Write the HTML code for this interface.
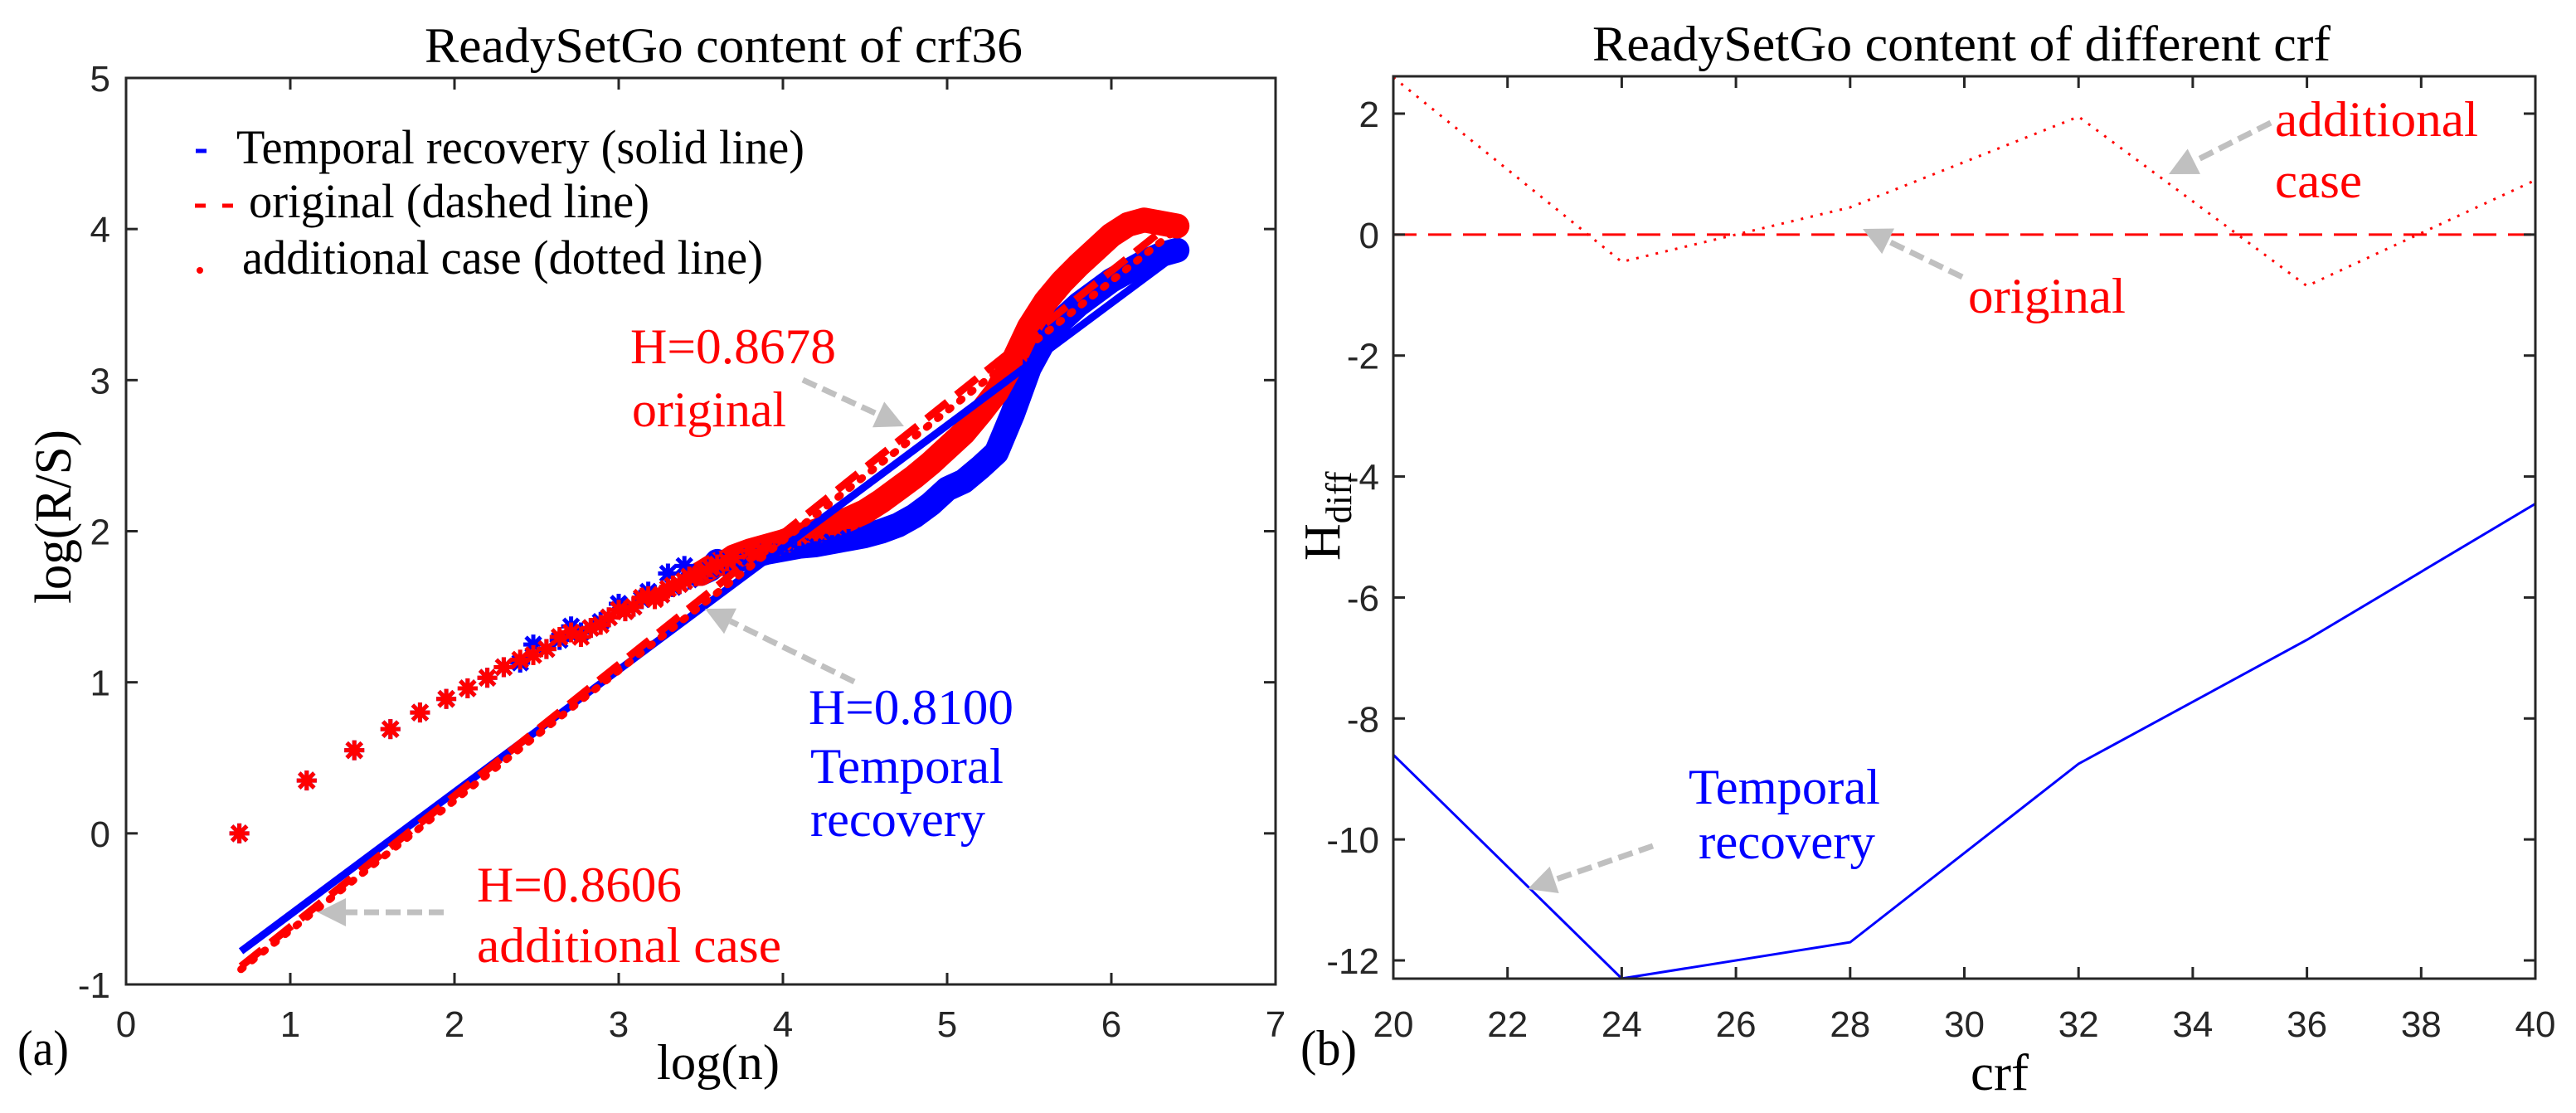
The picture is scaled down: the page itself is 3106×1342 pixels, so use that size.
<!DOCTYPE html>
<html><head><meta charset="utf-8"><style>
html,body{margin:0;padding:0;background:#fff}
svg{display:block}
.t{font-family:"Liberation Serif",serif}
.s{font-family:"Liberation Sans",sans-serif;fill:#262626}
</style></head><body>
<svg id="fig" width="3106" height="1342" viewBox="0 0 3106 1342" xmlns="http://www.w3.org/2000/svg">
<g id="L"></g>
<g id="R"></g>
</svg>
<script>
// ---------- Left chart data ----------
const lnX = [0.69,1.10,1.39,1.61,1.79,1.95,2.08,2.20,2.30,2.40,2.48,2.56,2.64,2.71,2.77,2.83,2.89,2.94,3.00,3.04,3.09,3.14,3.18,3.22,3.26,3.30,3.33,3.37,3.40,3.43,3.47,3.50,3.56,3.60,3.66,3.70,3.80,3.90,4.00,4.10,4.20,4.30,4.40,4.50,4.60,4.70,4.80,4.90,5.00,5.10,5.20,5.30,5.40,5.50,5.60,5.70,5.80,5.90,6.00,6.10,6.20,6.30,6.40];
const blueRS = [0,0.35,0.55,0.69,0.80,0.89,0.96,1.03,1.10,1.13,1.25,1.22,1.28,1.37,1.33,1.36,1.40,1.43,1.52,1.47,1.50,1.55,1.60,1.57,1.58,1.72,1.63,1.65,1.77,1.68,1.70,1.72,1.75,1.80,1.78,1.80,1.83,1.86,1.88,1.90,1.91,1.93,1.95,1.97,2.00,2.04,2.10,2.18,2.28,2.33,2.42,2.52,2.78,3.08,3.28,3.40,3.50,3.58,3.66,3.72,3.78,3.83,3.86];
const redRS = [0,0.35,0.55,0.69,0.80,0.89,0.96,1.03,1.10,1.15,1.18,1.22,1.30,1.33,1.30,1.36,1.38,1.43,1.48,1.47,1.50,1.56,1.57,1.55,1.58,1.62,1.64,1.65,1.67,1.70,1.70,1.72,1.76,1.78,1.80,1.83,1.87,1.90,1.93,1.97,2.00,2.04,2.08,2.13,2.20,2.28,2.36,2.45,2.55,2.65,2.78,2.92,3.12,3.35,3.52,3.65,3.76,3.86,3.96,4.03,4.06,4.04,4.02];
const xTicksL = [0,1,2,3,4,5,6,7];
const yTicksL = [-1,0,1,2,3,4,5];
const fitBlue = [0.7, -0.78, 6.42, 3.85];
const fitRed = [0.7, -0.88, 6.40, 4.07];
const fitAdd = [0.7, -0.90, 6.40, 4.00];
// ---------- Right chart data ----------
const crf = [20,24,28,32,36,40];
const temporal = [-8.6,-12.3,-11.7,-8.75,-6.7,-4.45];
const additional = [2.6,-0.45,0.45,1.95,-0.85,0.9];
const original = [0,0,0,0,0,0];
const xTicksR = [20,22,24,26,28,30,32,34,36,38,40];
const yTicksR = [-12,-10,-8,-6,-4,-2,0,2];

const NS="http://www.w3.org/2000/svg";
function mk(parent,tag,attrs,text){const e=document.createElementNS(NS,tag);for(const k in attrs)e.setAttribute(k,attrs[k]);if(text!==undefined)e.textContent=text;parent.appendChild(e);return e;}
const L=document.getElementById('L'), R=document.getElementById('R');

const LX0=152,LX1=1538,LY0=94,LY1=1187;
const lx=v=>LX0+(v-0)/7*(LX1-LX0);
const ly=v=>LY1-(v+1)/6*(LY1-LY0);
const RX0=1680,RX1=3057,RY0=92,RY1=1180;
const rx=v=>RX0+(v-20)/20*(RX1-RX0);
const ry=v=>137+(2-v)*(1158-137)/14;

function arrow(g,x1,y1,x2,y2,name){
  const dx=x2-x1,dy=y2-y1,len=Math.hypot(dx,dy),ux=dx/len,uy=dy/len;
  const bx=x2-ux*34,by=y2-uy*34;
  const l=mk(g,'line',{x1:x1,y1:y1,x2:bx,y2:by,stroke:'#c0c0c0','stroke-width':7,'stroke-dasharray':'18 8'});
  
  
  const p=mk(g,'polygon',{points:`${x2},${y2} ${bx-uy*17},${by+ux*17} ${bx+uy*17},${by-ux*17}`,fill:'#c0c0c0'});
  
  
}
function txt(g,x,y,s,opts,name){
  const e=mk(g,'text',Object.assign({x:x,y:y},opts),s);
  
  
  return e;
}
function serif(g,x,y,s,w,size,fill,name){
  return txt(g,x,y,s,{'font-family':'"Liberation Serif", serif','font-size':size,fill:fill,textLength:w,lengthAdjust:'spacingAndGlyphs'},name);
}

// ----- LEFT -----
function bandPts(arr){let s=[];lnX.forEach((x,i)=>{if(x>=3.5)s.push(lx(x)+','+ly(arr[i]));});return s.join(' ');}
let bb=mk(L,'polyline',{points:bandPts(blueRS),fill:'none',stroke:'#0000ff','stroke-width':30,'stroke-linejoin':'round','stroke-linecap':'round'});


let rb=mk(L,'polyline',{points:bandPts(redRS),fill:'none',stroke:'#ff0000','stroke-width':30,'stroke-linejoin':'round','stroke-linecap':'round'});


function star(g,cx,cy,col,name){
  const s=mk(g,'g',{stroke:col,'stroke-width':5});
  
  
  const r=12;
  mk(s,'line',{x1:cx-r,y1:cy,x2:cx+r,y2:cy});
  mk(s,'line',{x1:cx,y1:cy-r,x2:cx,y2:cy+r});
  mk(s,'line',{x1:cx-9,y1:cy-9,x2:cx+9,y2:cy+9});
  mk(s,'line',{x1:cx-9,y1:cy+9,x2:cx+9,y2:cy-9});
}
lnX.forEach((x,i)=>star(L,lx(x),ly(blueRS[i]),'#0000ff','temporal-point'));
lnX.forEach((x,i)=>star(L,lx(x),ly(redRS[i]),'#ff0000','original-point'));
let f1=mk(L,'line',{x1:lx(fitBlue[0]),y1:ly(fitBlue[1]),x2:lx(fitBlue[2]),y2:ly(fitBlue[3]),stroke:'#0000ff','stroke-width':9});


let f3=mk(L,'line',{x1:lx(fitAdd[0]),y1:ly(fitAdd[1]),x2:lx(fitAdd[2]),y2:ly(fitAdd[3]),stroke:'#ff0000','stroke-width':9,'stroke-dasharray':'3 14','stroke-linecap':'round'});


let f2=mk(L,'line',{x1:lx(fitRed[0]),y1:ly(fitRed[1]),x2:lx(fitRed[2]),y2:ly(fitRed[3]),stroke:'#ff0000','stroke-width':9,'stroke-dasharray':'32 14'});


let bxL=mk(L,'rect',{x:LX0,y:LY0,width:LX1-LX0,height:LY1-LY0,fill:'none',stroke:'#262626','stroke-width':3});


xTicksL.forEach(v=>{const x=lx(v);
  mk(L,'line',{x1:x,y1:LY1,x2:x,y2:LY1-14,stroke:'#262626','stroke-width':3});
  mk(L,'line',{x1:x,y1:LY0,x2:x,y2:LY0+14,stroke:'#262626','stroke-width':3});
  txt(L,x,1250,String(v),{class:'s','font-size':44,'text-anchor':'middle'},'x-tick-label');});
yTicksL.forEach(v=>{const y=ly(v);
  mk(L,'line',{x1:LX0,y1:y,x2:LX0+14,y2:y,stroke:'#262626','stroke-width':3});
  mk(L,'line',{x1:LX1,y1:y,x2:LX1-14,y2:y,stroke:'#262626','stroke-width':3});
  txt(L,133,y+16,String(v),{class:'s','font-size':44,'text-anchor':'end'},'y-tick-label');});
serif(L,512,75,'ReadySetGo content of crf36',721,60,'#000','left-title');
serif(L,792,1301,'log(n)',148,60,'#000','x-axis-title');
let yl=serif(L,0,0,'log(R/S)',210,62,'#000','y-axis-title');
yl.setAttribute('transform','translate(85,728) rotate(-90)');
serif(L,21,1284,'(a)',62,60,'#000','panel-label-a');
let lg=mk(L,'g',{});


mk(lg,'line',{x1:236,y1:182,x2:249,y2:182,stroke:'#0000ff','stroke-width':5});
mk(lg,'line',{x1:235,y1:248,x2:248,y2:248,stroke:'#ff0000','stroke-width':5});
mk(lg,'line',{x1:268,y1:248,x2:281,y2:248,stroke:'#ff0000','stroke-width':5});
mk(lg,'circle',{cx:241,cy:326,r:4,fill:'#ff0000'});
serif(lg,285,197,'Temporal recovery (solid line)',685,58,'#000','legend-entry-temporal');
serif(lg,300,262,'original (dashed line)',483,58,'#000','legend-entry-original');
serif(lg,292,330,'additional case (dotted line)',628,58,'#000','legend-entry-additional');
serif(L,760,438,'H=0.8678',248,60,'#ff0000','annotation-original-h');
serif(L,762,514,'original',186,60,'#ff0000','annotation-original-label');
serif(L,975,873,'H=0.8100',247,60,'#0000ff','annotation-temporal-h');
serif(L,977,944,'Temporal',233,60,'#0000ff','annotation-temporal-label');
serif(L,977,1008,'recovery',211,60,'#0000ff','annotation-recovery-label');
serif(L,575,1087,'H=0.8606',247,60,'#ff0000','annotation-additional-h');
serif(L,575,1160,'additional case',367,60,'#ff0000','annotation-additional-label');
arrow(L,968,458,1090,514,'arrow-original');
arrow(L,1030,822,850,734,'arrow-temporal');
arrow(L,535,1100,383,1100,'arrow-additional');

// ----- RIGHT -----
function poly(g,xs,ys,attrs,name){const p=mk(g,'polyline',Object.assign({points:xs.map((x,i)=>rx(x)+','+ry(ys[i])).join(' '),fill:'none'},attrs));
  
  }
poly(R,crf,original,{stroke:'#ff0000','stroke-width':3,'stroke-dasharray':'28 14'},'original-line');
poly(R,crf,additional,{stroke:'#ff0000','stroke-width':3,'stroke-dasharray':'3 9'},'additional-line');
poly(R,crf,temporal,{stroke:'#0000ff','stroke-width':3},'temporal-line');
let bxR=mk(R,'rect',{x:RX0,y:RY0,width:RX1-RX0,height:RY1-RY0,fill:'none',stroke:'#262626','stroke-width':3});


xTicksR.forEach(v=>{const x=rx(v);
  mk(R,'line',{x1:x,y1:RY1,x2:x,y2:RY1-14,stroke:'#262626','stroke-width':3});
  mk(R,'line',{x1:x,y1:RY0,x2:x,y2:RY0+14,stroke:'#262626','stroke-width':3});
  txt(R,x,1250,String(v),{class:'s','font-size':44,'text-anchor':'middle'},'x-tick-label');});
yTicksR.forEach(v=>{const y=ry(v);
  mk(R,'line',{x1:RX0,y1:y,x2:RX0+14,y2:y,stroke:'#262626','stroke-width':3});
  mk(R,'line',{x1:RX1,y1:y,x2:RX1-14,y2:y,stroke:'#262626','stroke-width':3});
  txt(R,1663,y+16,String(v),{class:'s','font-size':44,'text-anchor':'end'},'y-tick-label');});
serif(R,1920,73,'ReadySetGo content of different crf',890,60,'#000','right-title');
serif(R,2376,1314,'crf',70,62,'#000','x-axis-title-crf');
let hd=mk(R,'text',{'font-family':'"Liberation Serif", serif','font-size':62,transform:'translate(1615,676) rotate(-90)'});


mk(hd,'tspan',{},'H');
mk(hd,'tspan',{dy:14,'font-size':44},'diff');
serif(R,1568,1284,'(b)',68,60,'#000','panel-label-b');
serif(R,2743,164,'additional',245,60,'#ff0000','annotation-additional');
serif(R,2743,238,'case',105,60,'#ff0000','annotation-case');
serif(R,2373,377,'original',190,60,'#ff0000','annotation-original');
serif(R,2036,969,'Temporal',231,60,'#0000ff','annotation-temporal');
serif(R,2048,1035,'recovery',213,60,'#0000ff','annotation-recovery');
arrow(R,2738,148,2615,210,'arrow-additional-r');
arrow(R,2366,334,2246,276,'arrow-original-r');
arrow(R,1993,1020,1842,1072,'arrow-temporal-r');
</script>
</body></html>
